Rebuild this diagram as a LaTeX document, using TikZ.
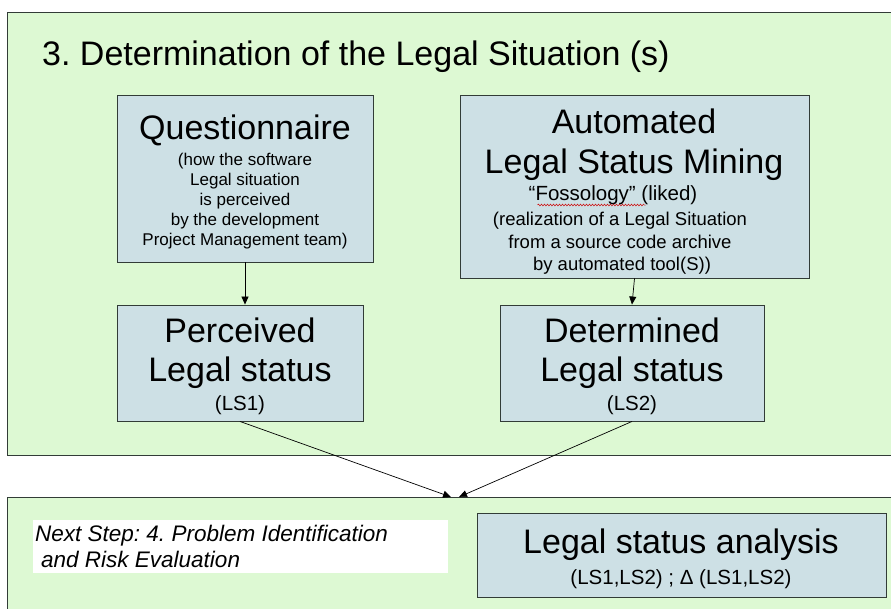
\documentclass[tikz,border=0pt]{standalone}
\usepackage{fontspec}
\setmainfont{Liberation Sans}
\usetikzlibrary{arrows.meta,decorations.pathmorphing}
\frenchspacing

\definecolor{panelgreen}{RGB}{221,249,211}
\definecolor{boxblue}{RGB}{205,224,229}
\definecolor{edgegray}{RGB}{50,60,55}

\tikzset{
  panel/.style={draw=edgegray, line width=1pt, fill=panelgreen},
  box/.style={draw=edgegray, line width=0.9pt, fill=boxblue, inner sep=0pt},
  txt/.style={anchor=base, inner sep=0pt, text=black},
  big/.style={txt, font=\fontsize{34}{40}\selectfont},
  mid/.style={txt, font=\fontsize{20.5}{24}\selectfont},
  small/.style={txt, font=\fontsize{17}{20}\selectfont},
  smallb/.style={txt, font=\fontsize{18.5}{22}\selectfont},
  note/.style={txt, anchor=base west, font=\fontsize{22.5}{26}\selectfont\itshape},
  arr/.style={draw=black, line width=0.7pt, -{Triangle[length=8pt,width=7pt]}},
}

\begin{document}
\begin{tikzpicture}[x=1pt,y=-1pt]
  \useasboundingbox (0,0) rectangle (891,608);
  \clip (0,0) rectangle (891,608);
  \fill[white] (0,0) rectangle (891,608);

  % upper panel: determination of the legal situation
  \draw[panel] (7,12) rectangle (900,455);
  \node[big, anchor=base west] (title) at (42,65) {3. Determination of the Legal Situation (s)};

  % questionnaire branch
  \node[box, minimum width=256pt, minimum height=167pt] (quest) at (245,178.5) {};
  \node[big] (questT) at (245,139) {Questionnaire};
  \node[small] (questA) at (245,165) {(how the software};
  \node[small] (questB) at (245,185) {Legal situation};
  \node[small] (questC) at (245,205) {is perceived};
  \node[small] (questD) at (245,225) {by the development};
  \node[small] (questE) at (245,245) {Project Management team)};

  \node[box, minimum width=246pt, minimum height=116pt] (perc) at (240,363) {};
  \node[big] (percA) at (240,342) {Perceived};
  \node[big] (percB) at (240,381) {Legal status};
  \node[mid] (percC) at (240,410) {(LS1)};

  % automated mining branch
  \node[box, minimum width=349pt, minimum height=183pt] (auto) at (634.5,186.5) {};
  \node[big] (autoA) at (634,133) {Automated};
  \node[big] (autoB) at (634,173) {Legal Status Mining};
  \node[mid] (autoF) at (613,200) {``Fossology'' (liked)};
  \draw[red!80!black, line width=0.5pt, decorate,
        decoration={snake, amplitude=0.9pt, segment length=3pt}]
        (autoF.base west) ++(9,5) -- ++(108,0);
  \node[smallb] (autoC) at (620,225) {(realization of a Legal Situation};
  \node[smallb] (autoD) at (620,248) {from a source code archive};
  \node[smallb] (autoE) at (622,270) {by automated tool(S))};

  \node[box, minimum width=264pt, minimum height=116pt] (det) at (632,363) {};
  \node[big] (detA) at (632,342) {Determined};
  \node[big] (detB) at (632,381) {Legal status};
  \node[mid] (detC) at (632,410) {(LS2)};

  % lower panel: next step
  \draw[panel] (7,497) rectangle (900,620);
  \coordinate (inL) at (451,497);
  \coordinate (inR) at (459,497);

  \node[fill=white, inner sep=0pt, minimum width=415pt, minimum height=53pt] (nextbg) at (240.5,546.5) {};
  \node[note] (nextA) at (35,541) {Next Step: 4. Problem Identification};
  \node[note] (nextB) at (41,567) {and Risk Evaluation};

  \node[box, minimum width=409pt, minimum height=84pt] (ana) at (682,555) {};
  \node[big] (anaT) at (681,553) {Legal status analysis};
  \node[mid] (anaS) at (681,584) {(LS1,LS2) ; Δ (LS1,LS2)};

  % connectors
  \draw[arr] (quest.south) -- (perc.north -| quest.south);
  \draw[arr] (auto.south) -- (det.north);
  \draw[arr] (perc.south) -- (inL);
  \draw[arr] (det.south) -- (inR);
\end{tikzpicture}
\end{document}
